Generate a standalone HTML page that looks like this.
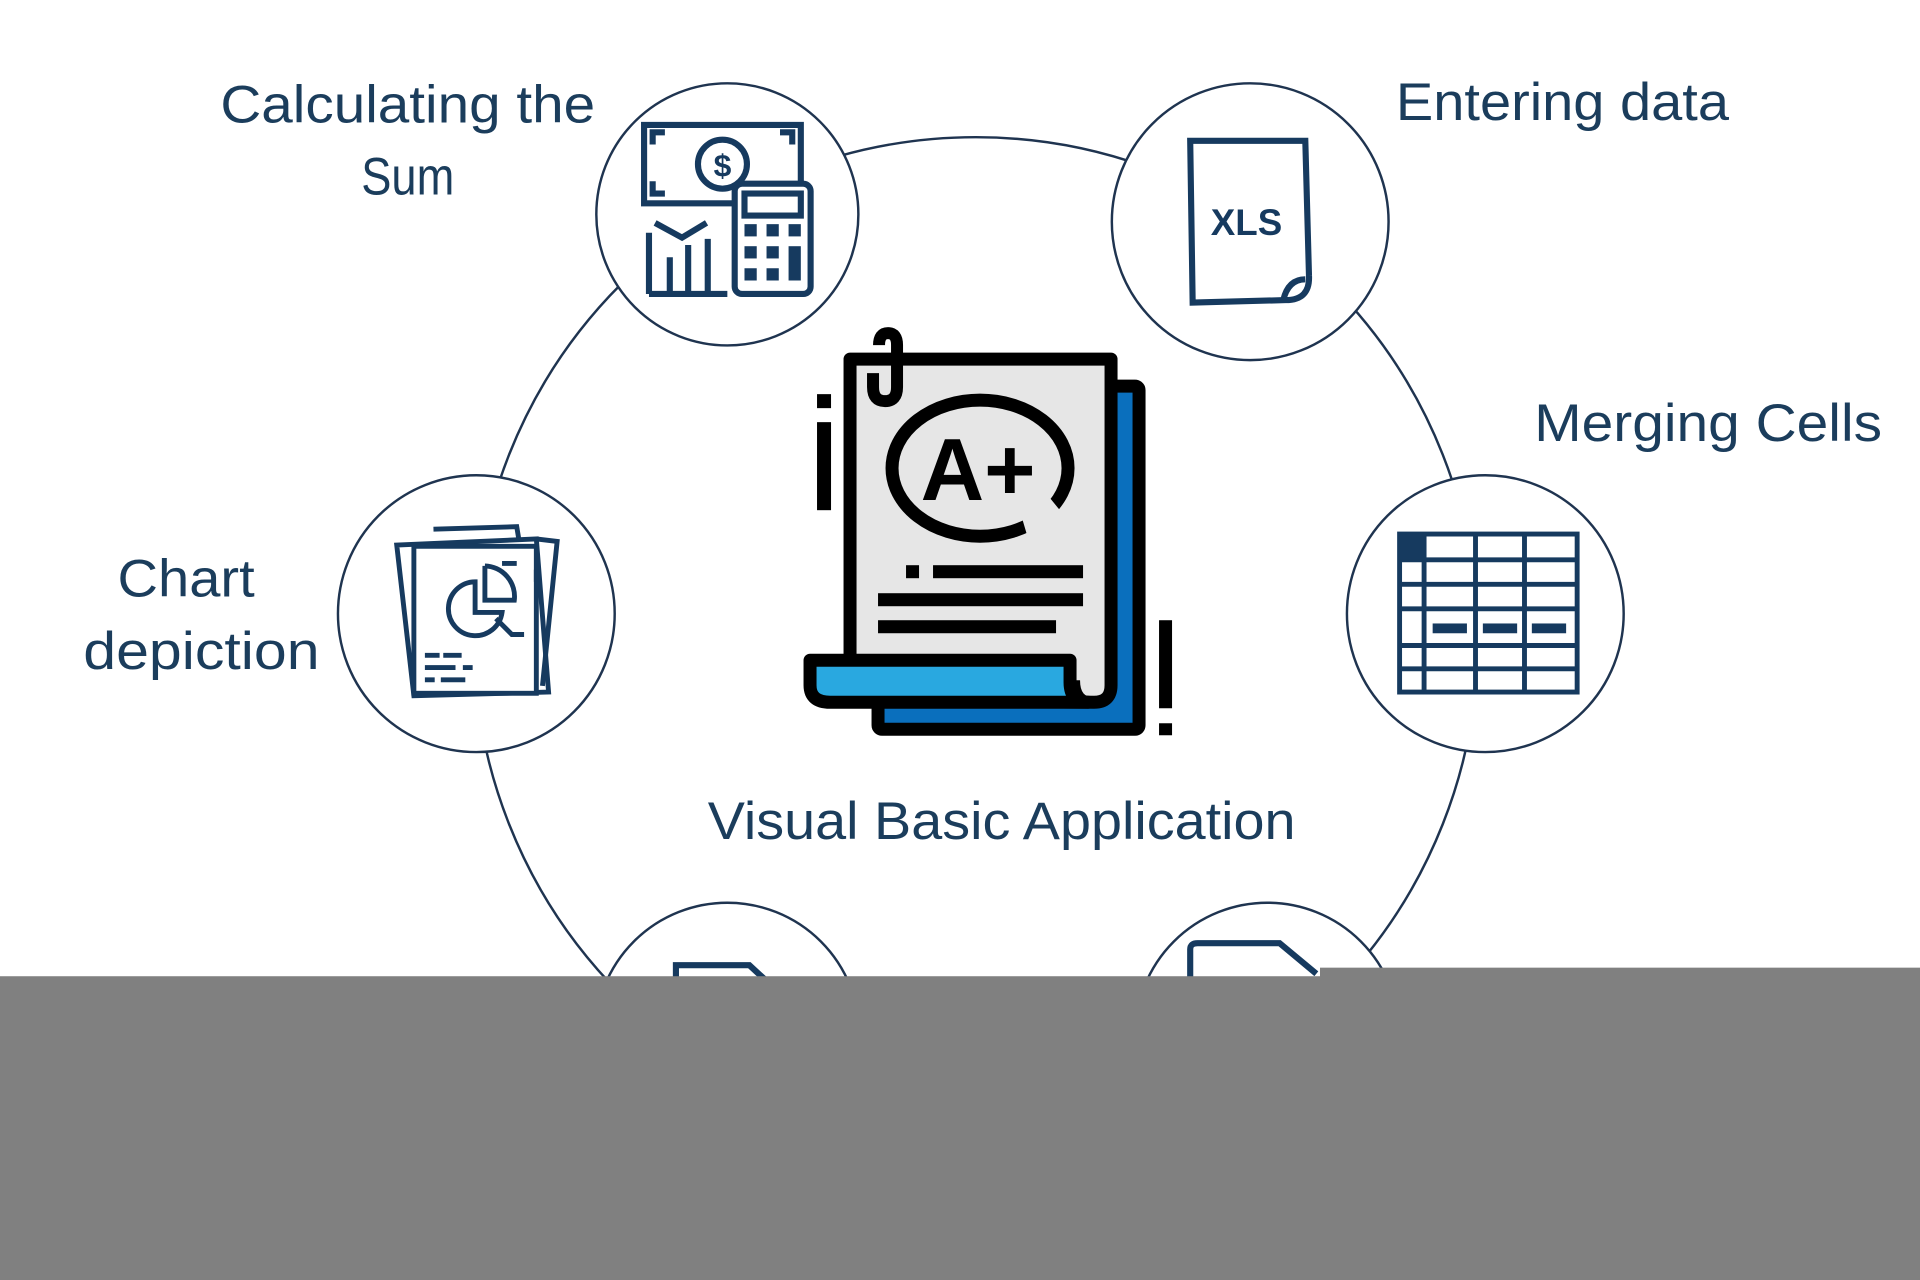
<!DOCTYPE html>
<html><head><meta charset="utf-8"><style>
html,body{margin:0;padding:0;background:#fff;width:1920px;height:1280px;overflow:hidden}
svg{display:block}
text{font-family:"Liberation Sans",sans-serif;fill:#1b3d5c}
</style></head><body>
<svg width="1920" height="1280" viewBox="0 0 1568 1045" preserveAspectRatio="none">
<rect width="1568" height="1045" fill="#fff"/>
<circle cx="797" cy="522" r="410" fill="none" stroke="#1f3450" stroke-width="2"/>
<g fill="#fff" stroke="#1f3450" stroke-width="2">
<circle cx="594" cy="175" r="107"/>
<circle cx="1021" cy="181" r="113"/>
<circle cx="389" cy="501" r="113"/>
<circle cx="1213" cy="501" r="113"/>
<circle cx="594" cy="845" r="108"/>
<circle cx="1035" cy="845" r="108"/>
</g>
<!-- calc icon -->
<g fill="none" stroke="#163a5f" stroke-width="5">
<rect x="526" y="102" width="128" height="64"/>
<circle cx="590" cy="134" r="20" fill="#fff"/>
<rect x="600" y="150" width="62" height="90" rx="6" fill="#fff"/>
<rect x="608" y="158" width="46" height="18"/>
<path d="M533 118v-10h10M647 118v-10h-10M533 148v10h10"/>
<path d="M530 240h64M530 240v-50M547 240v-30M562 240v-40M578 240v-45"/>
<path d="M535 182l22 12l20 -12"/>
</g>
<text x="590" y="144" font-size="26" font-weight="bold" text-anchor="middle" style="fill:#163a5f">$</text>
<g fill="#163a5f">
<rect x="608" y="183" width="10" height="10"/><rect x="626" y="183" width="10" height="10"/><rect x="644" y="183" width="10" height="10"/>
<rect x="608" y="201" width="10" height="10"/><rect x="626" y="201" width="10" height="10"/><rect x="644" y="201" width="10" height="28"/>
<rect x="608" y="219" width="10" height="10"/><rect x="626" y="219" width="10" height="10"/>
</g>
<!-- xls icon -->
<path d="M972 115 L1066 115 L1069 225 Q1070 245 1050 245 L974 247 Z" fill="none" stroke="#163a5f" stroke-width="5"/>
<path d="M1048 245 Q1052 228 1066 228" fill="none" stroke="#163a5f" stroke-width="5"/>
<text x="1018" y="192" font-size="30" font-weight="bold" text-anchor="middle" style="fill:#163a5f">XLS</text>
<!-- chart icon -->
<g fill="none" stroke="#163a5f" stroke-width="4">
<path d="M324 445 L438 440 L448 565 L338 568 Z"/>
<path d="M354 432 L422 430 L424 442"/>
<path d="M438 440 L455 442 L443 560"/>
<rect x="338" y="446" width="100" height="120" fill="#fff"/>
<path d="M388 475 A22 22 0 1 0 410 500 L388 500 Z"/>
<path d="M396 462 L396 490 L420 490 A25 25 0 0 0 396 462"/>
<path d="M410 460 L422 460 M405 505 L418 518 L428 518"/>
<path d="M347 535h12M362 535h15M347 545h25M378 545h8M347 555h8M360 555h20M438 475v-10"/>
</g>
<!-- grid icon -->
<g fill="none" stroke="#163a5f" stroke-width="4">
<rect x="1143" y="436" width="145" height="129"/>
<path d="M1143 457h145M1143 477h145M1143 497h145M1143 527h145M1143 546h145M1163 436v129M1205 436v129M1245 436v129"/>
</g>
<rect x="1143" y="436" width="20" height="21" fill="#163a5f"/>
<g fill="#163a5f"><rect x="1170" y="509" width="28" height="8"/><rect x="1211" y="509" width="28" height="8"/><rect x="1251" y="509" width="28" height="8"/></g>
<!-- bottom partial icons -->
<path d="M552 800 V788 H612 L625 800" fill="none" stroke="#163a5f" stroke-width="5"/>
<path d="M972 800 V775 Q972 770 978 770 H1045 L1075 795" fill="none" stroke="#163a5f" stroke-width="5"/>
<!-- center icon in full coords -->
<g transform="scale(0.8167)">
<rect x="878" y="386" width="261" height="343" rx="4" fill="#0a6fbd" stroke="#000" stroke-width="13"/>
<path d="M850 700 V359 H1111 V685 Q1111 702 1094 702 Z" fill="#e6e6e6" stroke="#000" stroke-width="13" stroke-linejoin="round"/>
<path d="M810 660 H1070 V682 Q1070 702 1088 702 H830 Q810 702 810 685 Z" fill="#29a8e0" stroke="#000" stroke-width="13" stroke-linejoin="round"/>
<path d="M1094 702 Q1075 702 1075 680" fill="none" stroke="#000" stroke-width="10"/>
<path d="M873 373 V387 Q873 401 885 401 Q897 401 897 387 V345 Q897 333 888 333 Q879 333 879 345" fill="none" stroke="#000" stroke-width="12"/>
<ellipse cx="980" cy="468" rx="88" ry="68" fill="none" stroke="#000" stroke-width="13"/>
<polygon points="1022,518 1050,498 1068,520 1030,545" fill="#e6e6e6"/>
<text x="978" y="500" font-size="88" font-weight="bold" text-anchor="middle" style="fill:#000">A+</text>
<g fill="#000">
<rect x="906" y="565" width="13" height="13"/><rect x="933" y="565" width="150" height="13"/>
<rect x="878" y="593" width="205" height="13"/><rect x="878" y="620" width="178" height="13"/>
<rect x="817" y="394" width="14" height="14"/><rect x="817" y="422" width="14" height="88"/>
<rect x="1159" y="620" width="13" height="88"/><rect x="1159" y="723" width="13" height="12"/>
</g>
</g>
<!-- labels -->
<text x="333" y="100" font-size="43" text-anchor="middle" textLength="306" lengthAdjust="spacingAndGlyphs">Calculating the</text>
<text x="333" y="159" font-size="43" text-anchor="middle" textLength="76" lengthAdjust="spacingAndGlyphs">Sum</text>
<text x="1140" y="98" font-size="43" textLength="272" lengthAdjust="spacingAndGlyphs">Entering data</text>
<text x="1253" y="360" font-size="43" textLength="284" lengthAdjust="spacingAndGlyphs">Merging  Cells</text>
<text x="96" y="487" font-size="43" textLength="112" lengthAdjust="spacingAndGlyphs">Chart</text>
<text x="68" y="546" font-size="43" textLength="193" lengthAdjust="spacingAndGlyphs">depiction</text>
<text x="578" y="685" font-size="43" textLength="480" lengthAdjust="spacingAndGlyphs">Visual Basic Application</text>
<!-- gray band -->
<rect x="0" y="797" width="1568" height="248" fill="#808080"/>
<rect x="1078" y="790" width="490" height="10" fill="#808080"/>
</svg>
</body></html>
